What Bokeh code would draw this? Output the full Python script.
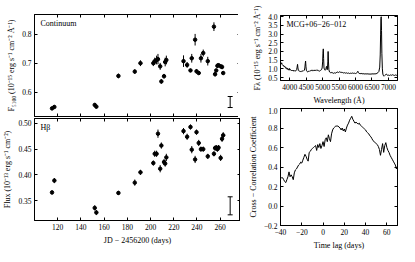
from bokeh.plotting import figure
from bokeh.layouts import row, column
from bokeh.models import (Range1d, LinearAxis, FixedTicker, Label, Whisker,
                          ColumnDataSource, TeeHead, CustomJSTickFormatter)
from bokeh.embed import file_html
from bokeh.resources import INLINE

# ---------------- data ----------------
jd = [115.1, 117.1, 151.9, 153.3, 172.3, 186.4, 191.3, 202.4, 203.6, 205.2,
      206.4, 208.3, 209.3, 211.6, 212.6, 213.6, 228.4, 231.5, 234.4, 235.5,
      238.4, 239.6, 241.5, 243.4, 245.4, 249.3, 254.6, 255.6, 256.6, 257.6,
      258.6, 260.4, 261.6, 262.6]
cont = [0.545, 0.550, 0.557, 0.551, 0.657, 0.672, 0.701, 0.701, 0.708, 0.712,
        0.715, 0.690, 0.638, 0.656, 0.705, 0.712, 0.708, 0.695, 0.676, 0.718,
        0.782, 0.673, 0.667, 0.718, 0.736, 0.708, 0.827, 0.663, 0.676, 0.692,
        0.694, 0.690, 0.688, 0.667]
cont_err = [0.006, 0.006, 0.006, 0.006, 0.008, 0.008, 0.010, 0.010, 0.012, 0.015,
            0.018, 0.012, 0.008, 0.008, 0.015, 0.015, 0.020, 0.010, 0.006, 0.015,
            0.020, 0.008, 0.006, 0.015, 0.012, 0.015, 0.015, 0.008, 0.006, 0.008,
            0.006, 0.006, 0.008, 0.006]
hbeta = [0.366, 0.389, 0.336, 0.327, 0.365, 0.385, 0.405, 0.423, 0.441, 0.441,
         0.480, 0.412, 0.457, 0.425, 0.422, 0.434, 0.485, 0.474, 0.493, 0.449,
         0.430, 0.483, 0.462, 0.450, 0.450, 0.436, 0.441, 0.452, 0.453, 0.450,
         0.453, 0.433, 0.470, 0.477]
hbeta_err = [0.004, 0.005, 0.005, 0.005, 0.004, 0.006, 0.005, 0.005, 0.006, 0.006,
             0.008, 0.007, 0.006, 0.006, 0.006, 0.007, 0.006, 0.006, 0.005, 0.007,
             0.007, 0.005, 0.006, 0.005, 0.005, 0.005, 0.005, 0.005, 0.005, 0.005,
             0.005, 0.006, 0.006, 0.006]
# representative (systematic) error bars
rep_jd = [268.6]
rep_cont = [0.567]
rep_cont_err = [0.019]
rep_hbeta = [0.340]
rep_hbeta_err = [0.0175]

wave = [3720, 3740, 3755, 3770, 3785, 3800, 3815, 3830, 3845, 3860, 3875, 3890,
        3905, 3920, 3935, 3950, 3965, 3980, 3995, 4010, 4030, 4050, 4070, 4090,
        4110, 4130, 4150, 4170, 4190, 4210, 4225, 4238, 4250, 4265, 4285, 4305,
        4325, 4345, 4365, 4385, 4405, 4425, 4445, 4460, 4472, 4482, 4493, 4505,
        4525, 4545, 4565, 4585, 4605, 4625, 4645, 4665, 4685, 4705, 4725, 4745,
        4765, 4785, 4805, 4825, 4845, 4865, 4885, 4905, 4925, 4945, 4965, 4985,
        5000, 5010, 5020, 5030, 5042, 5060, 5080, 5100, 5112, 5122, 5132, 5145,
        5158, 5167, 5177, 5190, 5210, 5235, 5260, 5285, 5310, 5335, 5360, 5385,
        5410, 5435, 5460, 5485, 5510, 5535, 5560, 5585, 5610, 5640, 5670, 5700,
        5730, 5760, 5790, 5820, 5850, 5880, 5910, 5940, 5970, 6000, 6030, 6055,
        6070, 6085, 6110, 6140, 6170, 6200, 6230, 6260, 6290, 6320, 6350, 6380,
        6410, 6440, 6470, 6500, 6530, 6560, 6590, 6620, 6650, 6680, 6710, 6735,
        6750, 6762, 6772, 6780, 6790, 6800, 6815, 6830, 6850, 6870, 6890, 6910,
        6935, 6955, 6975, 7000, 7030, 7060, 7090, 7120, 7150, 7180, 7210, 7240,
        7270]
flux = [1.32, 1.28, 1.35, 1.25, 1.22, 1.18, 1.20, 1.12, 1.15, 1.08, 1.10, 1.02,
        1.06, 0.98, 1.03, 0.95, 1.00, 0.92, 1.02, 0.93, 0.95, 0.90, 0.93, 0.88,
        0.92, 0.86, 0.90, 0.88, 0.89, 0.95, 1.10, 1.26, 1.05, 0.90, 0.86, 0.88,
        0.84, 0.87, 0.85, 0.88, 0.86, 0.90, 0.92, 1.05, 1.30, 1.45, 1.15, 0.92,
        0.85, 0.83, 0.86, 0.84, 0.88, 0.90, 0.87, 0.92, 0.89, 0.94, 0.90, 0.93,
        0.88, 0.92, 0.90, 0.95, 0.92, 0.88, 0.90, 0.87, 0.90, 0.92, 0.95, 1.05,
        1.40, 1.90, 2.15, 1.60, 1.05, 0.95, 0.92, 0.98, 1.12, 1.15, 0.98, 0.95,
        1.40, 2.00, 1.45, 0.95, 0.82, 0.78, 0.80, 0.76, 0.78, 0.74, 0.77, 0.75,
        0.78, 0.80, 0.82, 0.79, 0.83, 0.80, 0.82, 0.78, 0.79, 0.76, 0.78, 0.75,
        0.77, 0.74, 0.76, 0.73, 0.75, 0.74, 0.76, 0.74, 0.75, 0.73, 0.76, 0.80,
        0.86, 0.78, 0.74, 0.72, 0.74, 0.71, 0.73, 0.70, 0.72, 0.70, 0.72, 0.70,
        0.71, 0.69, 0.71, 0.70, 0.72, 0.70, 0.72, 0.71, 0.74, 0.78, 0.85, 1.10,
        1.80, 3.00, 3.90, 4.00, 3.20, 1.90, 1.00, 0.70, 0.60, 0.58, 0.62, 0.65,
        0.70, 0.68, 0.62, 0.64, 0.62, 0.65, 0.63, 0.66, 0.64, 0.62, 0.65, 0.63,
        0.64]

lag = [-40, -39, -38, -37, -36, -35, -34, -33, -32, -31, -30, -29, -28, -27, -26,
       -25, -24, -23, -22, -21, -20, -19, -18, -17, -16, -15, -14, -13, -12, -11,
       -10, -9, -8, -7, -6, -5, -4, -3, -2, -1, 0, 1, 2, 3, 4, 5, 6, 7, 8, 9, 10,
       11, 12, 13, 14, 15, 16, 17, 18, 19, 20, 21, 22, 23, 24, 25, 26, 27, 28, 29,
       30, 31, 32, 33, 34, 35, 36, 37, 38, 39, 40, 41, 42, 43, 44, 45, 46, 47, 48,
       49, 50, 51, 52, 53, 54, 55, 56, 57, 58, 59, 60, 61, 62, 63, 64, 65, 66, 67,
       68, 69, 70]
ccf = [0.28, 0.29, 0.29, 0.27, 0.25, 0.24, 0.27, 0.30, 0.35, 0.30, 0.32, 0.30,
       0.27, 0.34, 0.37, 0.38, 0.40, 0.42, 0.43, 0.45, 0.44, 0.47, 0.50, 0.53,
       0.51, 0.48, 0.46, 0.55, 0.56, 0.58, 0.59, 0.60, 0.61, 0.62, 0.57, 0.63,
       0.60, 0.64, 0.59, 0.62, 0.66, 0.61, 0.68, 0.70, 0.66, 0.73, 0.69, 0.66,
       0.74, 0.78, 0.80, 0.81, 0.82, 0.82, 0.82, 0.81, 0.80, 0.78, 0.80, 0.77,
       0.79, 0.76, 0.80, 0.83, 0.85, 0.88, 0.90, 0.92, 0.89, 0.87, 0.85, 0.86,
       0.85, 0.84, 0.85, 0.83, 0.82, 0.81, 0.80, 0.79, 0.78, 0.76, 0.75, 0.74,
       0.72, 0.71, 0.69, 0.67, 0.66, 0.65, 0.64, 0.63, 0.61, 0.58, 0.52, 0.58,
       0.64, 0.55, 0.62, 0.65, 0.60, 0.57, 0.55, 0.52, 0.50, 0.48, 0.46, 0.44,
       0.42, 0.38, 0.41]

# ---------------- styling ----------------
FONT = "Liberation Serif"
TICK_FS = "7.5px"
LAB_FS = "8px"


def fmt(dec):
    return CustomJSTickFormatter(
        code="return (tick < 0 ? '\\u2212' : '') + Math.abs(tick).toFixed(%d);" % dec)


def blank():
    return CustomJSTickFormatter(code="return '';")


def style_axis(ax, ticks, dec, show, label=None):
    ax.ticker = FixedTicker(ticks=ticks)
    ax.formatter = fmt(dec) if show else blank()
    ax.major_tick_in = 3
    ax.major_tick_out = 0
    ax.minor_tick_in = 0
    ax.minor_tick_out = 0
    ax.axis_line_color = "black"
    ax.axis_line_width = 1
    ax.major_tick_line_color = "black"
    ax.major_label_text_font = FONT
    ax.major_label_text_font_size = TICK_FS if show else "0px"
    ax.major_label_text_color = "black"
    ax.major_label_standoff = 3 if show else 0
    if label is not None:
        ax.axis_label = label
        ax.axis_label_text_font = FONT
        ax.axis_label_text_font_size = LAB_FS
        ax.axis_label_text_font_style = "normal"
        ax.axis_label_text_color = "black"
        ax.axis_label_standoff = 3


def make_fig(xr, yr, fw, fh, bl, br, bt, bb, xt, xd, yt, yd,
             show_x=True, xlabel=None, ylabel=None):
    p = figure(x_range=Range1d(*xr), y_range=Range1d(*yr),
               frame_width=fw, frame_height=fh,
               min_border_left=bl, min_border_right=br,
               min_border_top=bt, min_border_bottom=bb,
               output_backend="svg", toolbar_location=None)
    p.xgrid.visible = False
    p.ygrid.visible = False
    p.outline_line_color = "black"
    p.outline_line_width = 1
    p.background_fill_color = "white"
    p.border_fill_color = "white"
    style_axis(p.xaxis[0], xt, xd, show_x, xlabel)
    style_axis(p.yaxis[0], yt, yd, True, ylabel)
    top = LinearAxis()
    style_axis(top, xt, xd, False)
    p.add_layout(top, "above")
    right = LinearAxis()
    style_axis(right, yt, yd, False)
    p.add_layout(right, "right")
    return p


def corner_label(p, text, fh):
    p.add_layout(Label(x=6, y=fh - 4, x_units="screen", y_units="screen",
                       text=text, text_font=FONT, text_font_size="8px",
                       text_baseline="top", text_align="left",
                       text_color="black"))


jd_ticks = [120, 140, 160, 180, 200, 220, 240, 260]
JD_RANGE = (100, 277.5)

# --- continuum panel ---
p1 = make_fig(JD_RANGE, (0.517, 0.869), 206, 102, 32, 0, 14, 1,
              jd_ticks, 0, [0.6, 0.7, 0.8], 1, show_x=False,
              ylabel="F₅₁₀₀ (10⁻¹⁵ erg s⁻¹ cm⁻² Å⁻¹)")
lo = [v - e for v, e in zip(cont, cont_err)]
hi = [v + e for v, e in zip(cont, cont_err)]
p1.segment(x0=jd, y0=lo, x1=jd, y1=hi, line_color="black", line_width=1)
p1.scatter(jd, cont, size=3.5, color="black")
src1 = ColumnDataSource(dict(x=rep_jd,
                             lo=[v - e for v, e in zip(rep_cont, rep_cont_err)],
                             hi=[v + e for v, e in zip(rep_cont, rep_cont_err)]))
p1.add_layout(Whisker(base="x", lower="lo", upper="hi", source=src1,
                      dimension="height", line_color="black", line_width=1,
                      upper_head=TeeHead(size=5, line_color="black"),
                      lower_head=TeeHead(size=5, line_color="black")))
corner_label(p1, "Continuum", 102)

# --- H beta panel ---
p2 = make_fig(JD_RANGE, (0.3115, 0.5095), 206, 102, 32, 0, 1, 24,
              jd_ticks, 0, [0.35, 0.40, 0.45, 0.50], 2, show_x=True,
              xlabel="JD − 2456200 (days)",
              ylabel="Flux (10⁻¹³ erg s⁻¹ cm⁻²)")
lo = [v - e for v, e in zip(hbeta, hbeta_err)]
hi = [v + e for v, e in zip(hbeta, hbeta_err)]
p2.segment(x0=jd, y0=lo, x1=jd, y1=hi, line_color="black", line_width=1)
p2.scatter(jd, hbeta, size=3.5, color="black")
src2 = ColumnDataSource(dict(x=rep_jd,
                             lo=[v - e for v, e in zip(rep_hbeta, rep_hbeta_err)],
                             hi=[v + e for v, e in zip(rep_hbeta, rep_hbeta_err)]))
p2.add_layout(Whisker(base="x", lower="lo", upper="hi", source=src2,
                      dimension="height", line_color="black", line_width=1,
                      upper_head=TeeHead(size=5, line_color="black"),
                      lower_head=TeeHead(size=5, line_color="black")))
corner_label(p2, "Hβ", 102)

# --- spectrum panel ---
p3 = make_fig((3720, 7275), (0.33, 4.07), 117, 65, 40, 4, 15, 24,
              [4000, 4500, 5000, 5500, 6000, 6500, 7000], 0,
              [0.5, 1.0, 1.5, 2.0, 2.5, 3.0, 3.5, 4.0], 1, show_x=True,
              xlabel="Wavelength (Å)",
              ylabel="Fλ (10⁻¹⁵ erg s⁻¹ cm⁻² Å⁻¹)")
p3.line(wave, flux, line_color="black", line_width=1)
corner_label(p3, "MCG+06−26−012", 65)

# --- CCF panel ---
p4 = make_fig((-40, 70), (-0.2, 1.0), 117, 117, 40, 4, 1, 24,
              [-40, -20, 0, 20, 40, 60], 0,
              [-0.2, 0.0, 0.2, 0.4, 0.6, 0.8, 1.0], 1, show_x=True,
              xlabel="Time lag (days)",
              ylabel="Cross − Correlation Coefficient")
p4.line(lag, ccf, line_color="black", line_width=1)

layout = row(column(p1, p2), column(p3, p4))

open("out.html", "w").write(file_html(layout, INLINE))
